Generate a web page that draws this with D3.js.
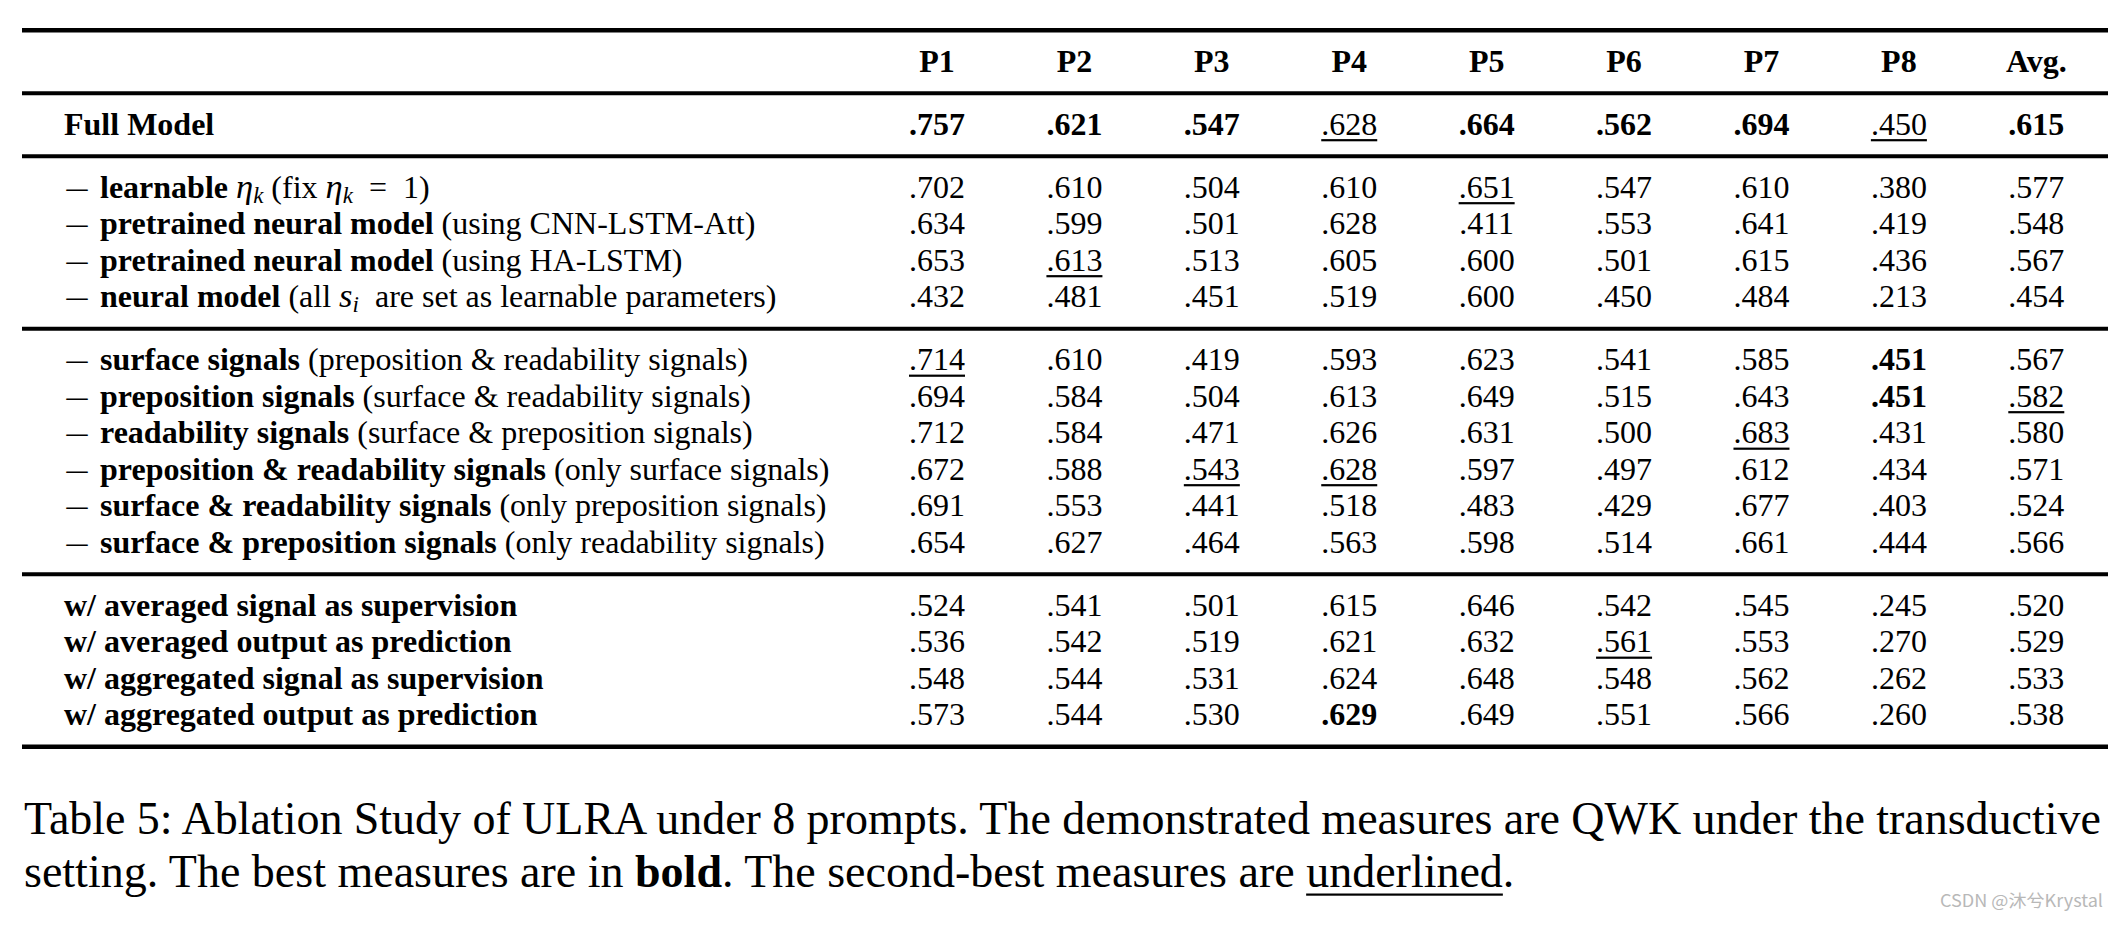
<!DOCTYPE html>
<html>
<head>
<meta charset="utf-8">
<script src="https://cdn.jsdelivr.net/npm/d3@7/dist/d3.min.js"></script>
<style>
  html, body { margin: 0; padding: 0; background: #fff; }
  svg { display: block; }
  text { font-family: "Liberation Serif", "Times New Roman", serif; fill: #000; }
</style>
</head>
<body>
<svg id="chart" width="2119" height="925"></svg>
<script>
// ---------------- DATA ----------------
const columns = ["P1", "P2", "P3", "P4", "P5", "P6", "P7", "P8", "Avg."];

const fullModelLabel = [{t: "Full Model", s: "b"}];
const fullModelValues = [".757", ".621", ".547", ".628", ".664", ".562", ".694", ".450", ".615"];

const componentLabels = [
  [{t: "learnable ", s: "b"}, {t: "η", s: "i"}, {t: "k", s: "sub"}, {t: " (fix ", s: "n"}, {t: "η", s: "i"}, {t: "k", s: "sub"}, {t: "\u2002=\u20021)", s: "n"}],
  [{t: "pretrained neural model", s: "b"}, {t: " (using CNN-LSTM-Att)", s: "n"}],
  [{t: "pretrained neural model", s: "b"}, {t: " (using HA-LSTM)", s: "n"}],
  [{t: "neural model", s: "b"}, {t: " (all ", s: "n"}, {t: "s", s: "i"}, {t: "i", s: "sub"}, {t: "\u2002are set as learnable parameters)", s: "n"}]
];
const componentValues = [
  [".702", ".610", ".504", ".610", ".651", ".547", ".610", ".380", ".577"],
  [".634", ".599", ".501", ".628", ".411", ".553", ".641", ".419", ".548"],
  [".653", ".613", ".513", ".605", ".600", ".501", ".615", ".436", ".567"],
  [".432", ".481", ".451", ".519", ".600", ".450", ".484", ".213", ".454"]
];

const signalLabels = [
  [{t: "surface signals", s: "b"}, {t: " (preposition & readability signals)", s: "n"}],
  [{t: "preposition signals", s: "b"}, {t: " (surface & readability signals)", s: "n"}],
  [{t: "readability signals", s: "b"}, {t: " (surface & preposition signals)", s: "n"}],
  [{t: "preposition & readability signals", s: "b"}, {t: " (only surface signals)", s: "n"}],
  [{t: "surface & readability signals", s: "b"}, {t: " (only preposition signals)", s: "n"}],
  [{t: "surface & preposition signals", s: "b"}, {t: " (only readability signals)", s: "n"}]
];
const signalValues = [
  [".714", ".610", ".419", ".593", ".623", ".541", ".585", ".451", ".567"],
  [".694", ".584", ".504", ".613", ".649", ".515", ".643", ".451", ".582"],
  [".712", ".584", ".471", ".626", ".631", ".500", ".683", ".431", ".580"],
  [".672", ".588", ".543", ".628", ".597", ".497", ".612", ".434", ".571"],
  [".691", ".553", ".441", ".518", ".483", ".429", ".677", ".403", ".524"],
  [".654", ".627", ".464", ".563", ".598", ".514", ".661", ".444", ".566"]
];

const fusionLabels = [
  [{t: "w/ averaged signal as supervision", s: "b"}],
  [{t: "w/ averaged output as prediction", s: "b"}],
  [{t: "w/ aggregated signal as supervision", s: "b"}],
  [{t: "w/ aggregated output as prediction", s: "b"}]
];
const fusionValues = [
  [".524", ".541", ".501", ".615", ".646", ".542", ".545", ".245", ".520"],
  [".536", ".542", ".519", ".621", ".632", ".561", ".553", ".270", ".529"],
  [".548", ".544", ".531", ".624", ".648", ".548", ".562", ".262", ".533"],
  [".573", ".544", ".530", ".629", ".649", ".551", ".566", ".260", ".538"]
];

// [bodyRowIndex, columnIndex]; body rows: 0 = Full Model, 1-4 components, 5-10 signals, 11-14 fusion
const bestCells = [[0,0],[0,1],[0,2],[0,4],[0,5],[0,6],[0,8],[5,7],[6,7],[14,3]];
const secondCells = [[0,3],[0,7],[1,4],[3,1],[5,0],[6,8],[7,6],[8,2],[8,3],[12,5]];

const captionLine1 = "Table 5: Ablation Study of ULRA under 8 prompts. The demonstrated measures are QWK under the transductive";
const captionLine2 = [
  {t: "setting. The best measures are in ", s: "n"},
  {t: "bold", s: "b"},
  {t: ". The second-best measures are ", s: "n"},
  {t: "underlined", s: "u"},
  {t: ".", s: "n"}
];
const watermark = "CSDN @沐兮Krystal";

// ---------------- LAYOUT ----------------
const svg = d3.select("#chart");
const FS = 32;
const ruleLeft = 22, ruleRight = 2108;
const topRule = 30.3, firstGap = 41.5, rowStep = 36.5, lastGap = 21.5;

const sections = [
  {kind: "header"},
  {rows: [{label: fullModelLabel, values: fullModelValues, dash: false}]},
  {rows: componentLabels.map((l, i) => ({label: l, values: componentValues[i], dash: true}))},
  {rows: signalLabels.map((l, i) => ({label: l, values: signalValues[i], dash: true}))},
  {rows: fusionLabels.map((l, i) => ({label: l, values: fusionValues[i], dash: false}))}
];

const x = d3.scaleBand().domain(columns).range([868.3, 2105.0]).paddingInner(0).paddingOuter(0);
const cx = c => x(c) + x.bandwidth() / 2;

const isBest = (r, c) => bestCells.some(d => d[0] === r && d[1] === c);
const isSecond = (r, c) => secondCells.some(d => d[0] === r && d[1] === c);

let y = topRule;
const rules = [topRule];
const headerBaseline = y + firstGap;
y = headerBaseline + lastGap;
rules.push(y);

const bodyRows = [];
sections.slice(1).forEach(sec => {
  let b = y + firstGap;
  sec.rows.forEach((row, i) => {
    bodyRows.push(Object.assign({baseline: b + i * rowStep}, row));
  });
  y = b + (sec.rows.length - 1) * rowStep + lastGap;
  rules.push(y);
});

// rules
svg.append("g").selectAll("line").data(rules).join("line")
  .attr("x1", ruleLeft).attr("x2", ruleRight)
  .attr("y1", d => d).attr("y2", d => d)
  .attr("stroke", "#000")
  .attr("stroke-width", (d, i) => (i === 0 || i === rules.length - 1) ? 4.5 : 4);

// header
svg.append("g").selectAll("text").data(columns).join("text")
  .attr("x", d => cx(d)).attr("y", headerBaseline)
  .attr("text-anchor", "middle")
  .attr("font-size", FS).attr("font-weight", "bold")
  .text(d => d);

// row labels
function drawRich(textSel, segs, fs) {
  let shifted = false;
  segs.forEach(seg => {
    const ts = textSel.append("tspan").text(seg.t);
    if (seg.s === "b") ts.attr("font-weight", "bold");
    if (seg.s === "i") ts.attr("font-style", "italic").attr("font-size", fs * 1.08);
    if (seg.s === "sub") {
      ts.attr("font-style", "italic").attr("font-size", fs * 0.72).attr("dy", 5);
      shifted = true;
    } else if (shifted) {
      ts.attr("dy", -5);
      shifted = false;
    }
  });
}

const labelG = svg.append("g");
bodyRows.forEach(row => {
  if (row.dash) {
    labelG.append("text")
      .attr("x", 66.5).attr("y", row.baseline)
      .attr("font-size", FS)
      .attr("textLength", 21).attr("lengthAdjust", "spacingAndGlyphs")
      .text("–");
  }
  const t = labelG.append("text")
    .attr("x", row.dash ? 100 : 64)
    .attr("y", row.baseline)
    .attr("font-size", FS)
    .style("white-space", "pre");
  drawRich(t, row.label, FS);
});

// values
const cellG = svg.append("g");
bodyRows.forEach((row, r) => {
  row.values.forEach((v, c) => {
    const t = cellG.append("text")
      .attr("x", cx(columns[c])).attr("y", row.baseline)
      .attr("text-anchor", "middle")
      .attr("font-size", FS)
      .attr("font-weight", isBest(r, c) ? "bold" : "normal")
      .text(v);
    if (isSecond(r, c)) {
      const w = t.node().getComputedTextLength();
      cellG.append("rect")
        .attr("x", cx(columns[c]) - w / 2)
        .attr("y", row.baseline + 4.3)
        .attr("width", w).attr("height", 2.2)
        .attr("fill", "#000");
    }
  });
});

// caption
const CFS = 46;
const capX = 24, capRight = 2101;
const cap1 = svg.append("text")
  .attr("x", capX).attr("y", 834)
  .attr("font-size", CFS)
  .text(captionLine1);
const natural = cap1.node().getComputedTextLength();
const nSpaces = (captionLine1.match(/ /g) || []).length;
cap1.attr("word-spacing", (capRight - capX - natural) / nSpaces);

const cap2 = svg.append("text")
  .attr("x", capX).attr("y", 887)
  .attr("font-size", CFS)
  .style("white-space", "pre");
captionLine2.forEach(seg => {
  const ts = cap2.append("tspan").text(seg.t);
  if (seg.s === "b") ts.attr("font-weight", "bold");
  if (seg.s === "u") ts.attr("class", "und");
});
const undNode = cap2.select("tspan.und").node();
const ux = undNode.getStartPositionOfChar(0).x;
const uw = undNode.getComputedTextLength();
svg.append("rect")
  .attr("x", ux).attr("y", 887 + 6.5)
  .attr("width", uw).attr("height", 2.2)
  .attr("fill", "#000");

// watermark
svg.append("text")
  .attr("x", 2103).attr("y", 907)
  .attr("text-anchor", "end")
  .style("font-family", "'Noto Sans CJK SC', 'Noto Sans', sans-serif")
  .attr("font-size", 17)
  .attr("textLength", 163).attr("lengthAdjust", "spacingAndGlyphs")
  .style("fill", "#b8b8b8")
  .text(watermark);
</script>
</body>
</html>
